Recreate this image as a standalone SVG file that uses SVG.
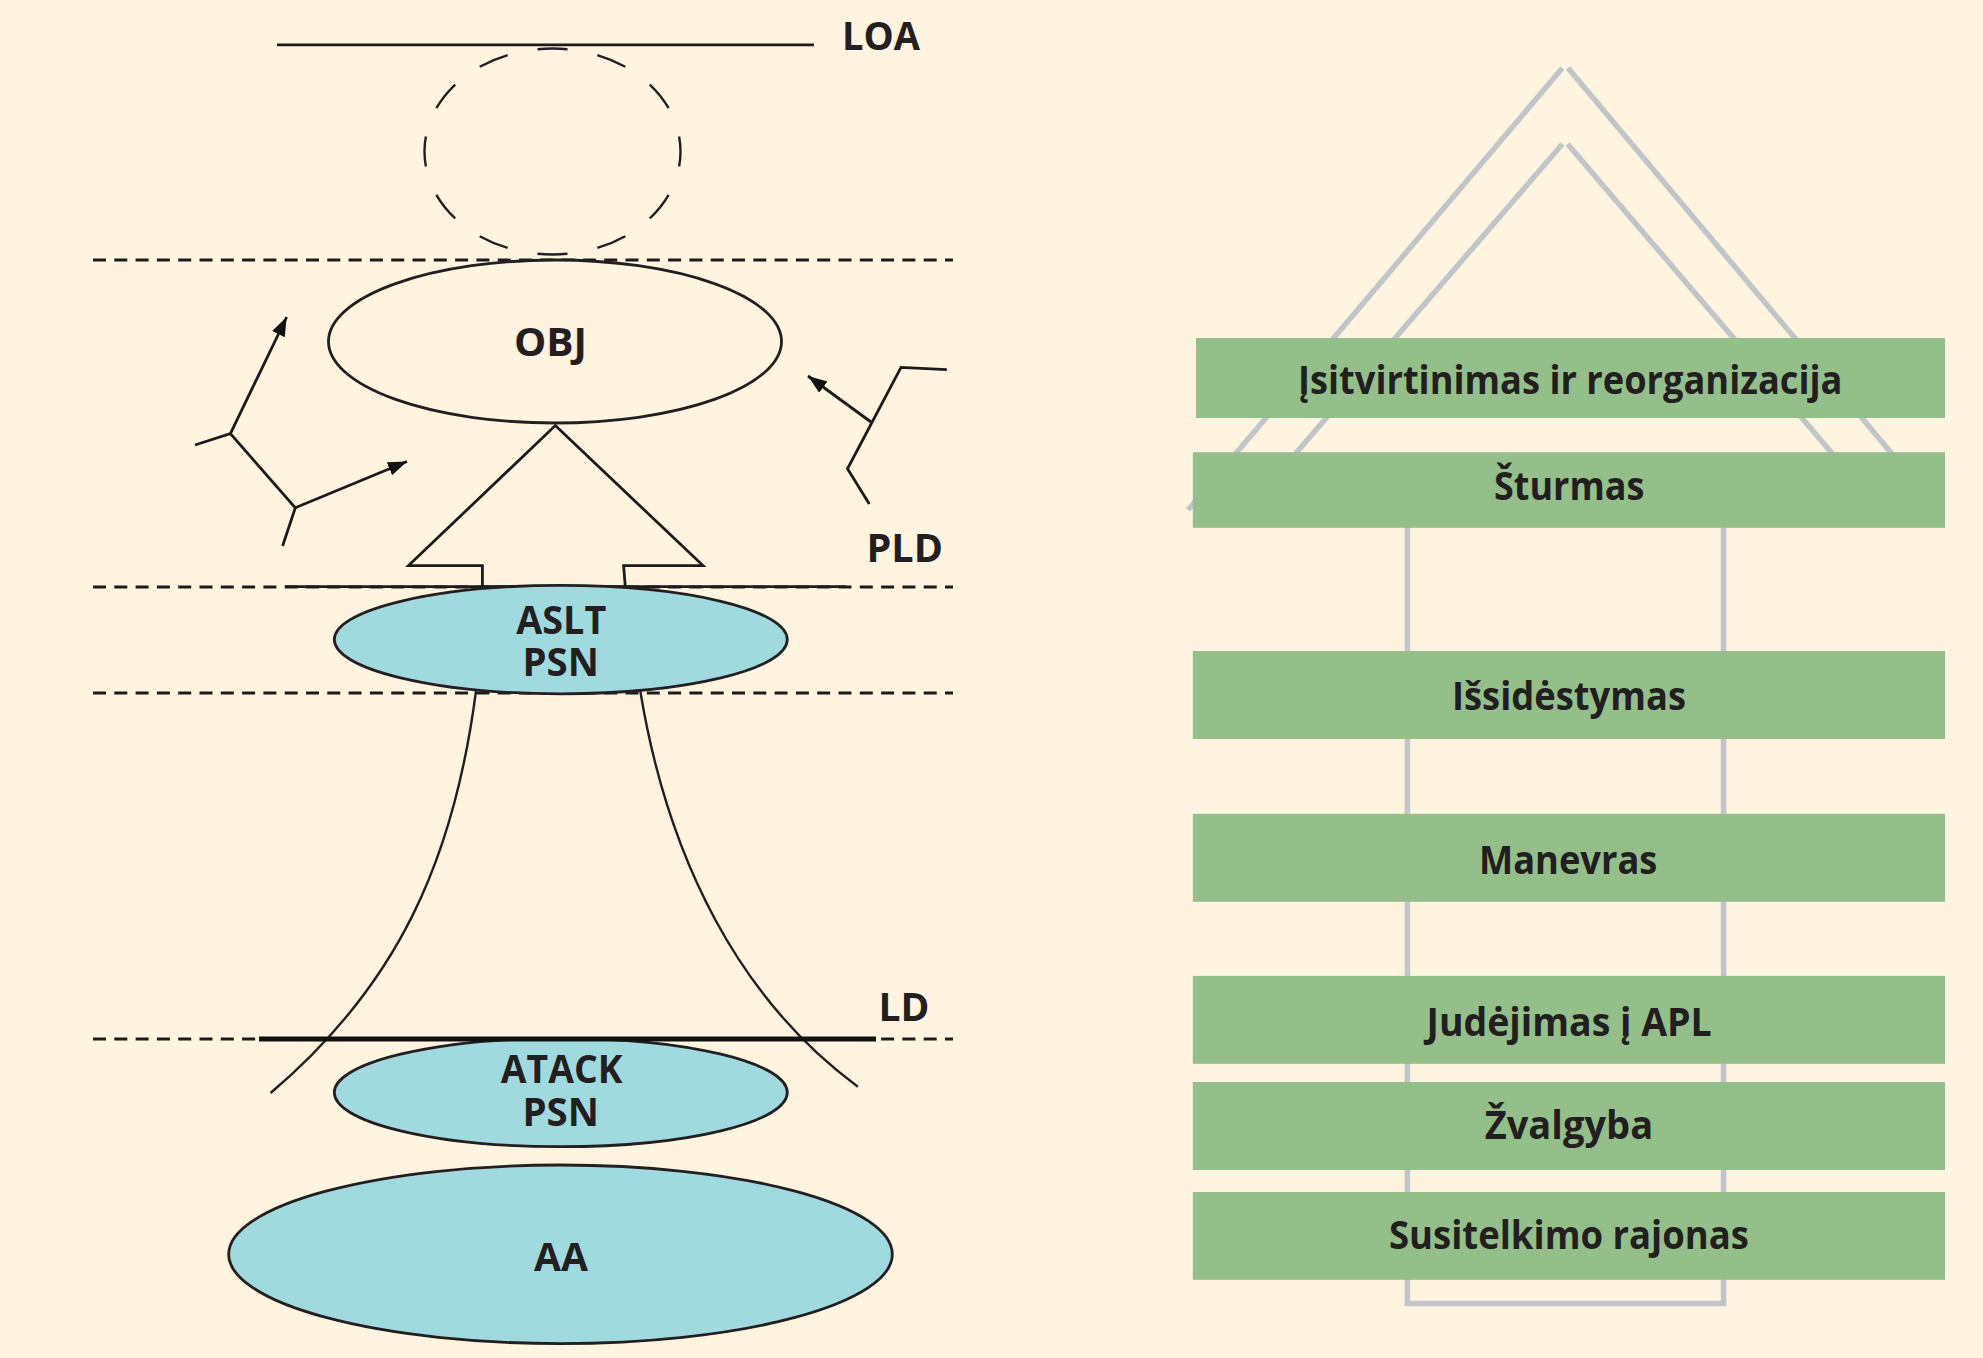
<svg xmlns="http://www.w3.org/2000/svg" width="1983" height="1358" viewBox="0 0 1983 1358">
<style>
text{font-family:"Open Sans","Noto Sans","Liberation Sans",sans-serif;font-weight:700;font-size:39px;fill:#231f20;text-anchor:start}
.ln{fill:none;stroke:#1c1a1b;stroke-width:2.8}
.th{fill:none;stroke:#231f20;stroke-width:2.4}
.da{fill:none;stroke:#1c1a1b;stroke-width:2.8;stroke-dasharray:13 8.3}
.el{stroke:#231f20;stroke-width:2.8}
.bl{fill:#a0dadf}
.gr{fill:none;stroke:#c1c4c9;stroke-width:5.5}
.bar{fill:#94bf8a}
</style>
<defs>
<marker id="ah" markerUnits="userSpaceOnUse" markerWidth="20" markerHeight="16" refX="19" refY="8" orient="auto"><path d="M0,1L19,8L0,15z" fill="#111"/></marker>
</defs>
<rect width="1983" height="1358" fill="#fff4df"/>
<g id="connectors">
<line class="ln" x1="277" y1="44.8" x2="814" y2="44.8"/>
<line class="da" x1="93" y1="260" x2="953" y2="260"/>
<line class="da" x1="93" y1="587" x2="953" y2="587"/>
<line class="da" x1="93" y1="693" x2="953" y2="693"/>
<line class="da" x1="93" y1="1039" x2="953" y2="1039"/>
<line class="ln" x1="285" y1="586.7" x2="846" y2="586.7"/>
<path class="th" d="M476,691C454,860 398,985 270.6,1093"/>
<path class="th" d="M640.3,691C668,860 740,1000 857.9,1086.7"/>
<path class="ln" d="M195,445L230.4,433.6L286.7,317" marker-end="url(#ah)"/>
<path class="ln" d="M230.4,433.6L295.3,507.8L282.6,546"/>
<path class="ln" d="M295.3,507.8L407,461.5" marker-end="url(#ah)"/>
<path class="ln" d="M946.8,369.7L901,367.4L847.5,468.8L869.3,504"/>
<path class="ln" d="M871,422L808,376" marker-end="url(#ah)"/>
</g>
<g id="node-objective-area"><ellipse cx="552.5" cy="151.5" rx="128" ry="103" fill="none" stroke="#231f20" stroke-width="2.4" pathLength="12" stroke-dasharray="0.5 0.5" stroke-dashoffset="0.25"/></g>
<g id="node-obj"><ellipse class="el" cx="555" cy="341.5" rx="226.5" ry="81.5" fill="#fff4df"/><text x="514" y="356" textLength="73" lengthAdjust="spacingAndGlyphs">OBJ</text></g>
<g id="node-arrow"><path class="ln" d="M555.3,425.6L703,565.6H623.6L625.3,587H482.4V565.6H408.5z" stroke-linejoin="miter"/></g>
<g id="node-aslt"><ellipse class="el bl" cx="560.8" cy="639.6" rx="226.5" ry="54.2"/><text x="516.3" y="634.3" textLength="90" lengthAdjust="spacingAndGlyphs">ASLT</text><text x="522.5" y="676" textLength="76.5" lengthAdjust="spacingAndGlyphs">PSN</text></g>
<g id="node-atack"><ellipse class="el bl" cx="560.8" cy="1092.5" rx="226.5" ry="54.2"/><text x="500.8" y="1083" textLength="121.7" lengthAdjust="spacingAndGlyphs">ATACK</text><text x="522.5" y="1126" textLength="76.5" lengthAdjust="spacingAndGlyphs">PSN</text></g>
<line id="ld-line" x1="259" y1="1039" x2="876" y2="1039" stroke="#111" stroke-width="5"/>
<g id="node-aa"><ellipse class="el bl" cx="560.5" cy="1254.3" rx="331.8" ry="89.3"/><text x="534" y="1271" textLength="54" lengthAdjust="spacingAndGlyphs">AA</text></g>
<g id="label-loa"><text x="842" y="50" textLength="78" lengthAdjust="spacingAndGlyphs">LOA</text></g>
<g id="label-pld"><text x="866.5" y="561.5" textLength="76.5" lengthAdjust="spacingAndGlyphs">PLD</text></g>
<g id="label-ld"><text x="878.5" y="1020.6" textLength="51" lengthAdjust="spacingAndGlyphs">LD</text></g>
<g id="house">
<path class="gr" d="M1188,510L1562.4,68"/>
<path class="gr" d="M1568,68L1893,455"/>
<path class="gr" d="M1294.4,455L1562.4,144"/>
<path class="gr" d="M1567.6,144L1833.5,455"/>
<path class="gr" d="M1407.4,500V1303.5H1723.6V500"/>
</g>
<g id="node-bar1"><rect class="bar" x="1196" y="338" width="749" height="80"/><text x="1298" y="394.3" textLength="544.4" lengthAdjust="spacingAndGlyphs">Įsitvirtinimas ir reorganizacija</text></g>
<g id="node-bar2"><rect class="bar" x="1192.8" y="452.2" width="752.2" height="75.6"/><text x="1494" y="500" textLength="150.3" lengthAdjust="spacingAndGlyphs">Šturmas</text></g>
<g id="node-bar3"><rect class="bar" x="1192.8" y="651" width="752.2" height="88"/><text x="1452" y="709.5" textLength="234" lengthAdjust="spacingAndGlyphs">Išsidėstymas</text></g>
<g id="node-bar4"><rect class="bar" x="1192.8" y="813.8" width="752.2" height="88"/><text x="1479" y="873.6" textLength="178.3" lengthAdjust="spacingAndGlyphs">Manevras</text></g>
<g id="node-bar5"><rect class="bar" x="1192.8" y="975.9" width="752.2" height="87.9"/><text x="1426.5" y="1035.6" textLength="285.2" lengthAdjust="spacingAndGlyphs">Judėjimas į APL</text></g>
<g id="node-bar6"><rect class="bar" x="1192.8" y="1082" width="752.2" height="88"/><text x="1484.7" y="1138.8" textLength="168.5" lengthAdjust="spacingAndGlyphs">Žvalgyba</text></g>
<g id="node-bar7"><rect class="bar" x="1192.8" y="1192" width="752.2" height="87.8"/><text x="1389" y="1249" textLength="360" lengthAdjust="spacingAndGlyphs">Susitelkimo rajonas</text></g>
</svg>
